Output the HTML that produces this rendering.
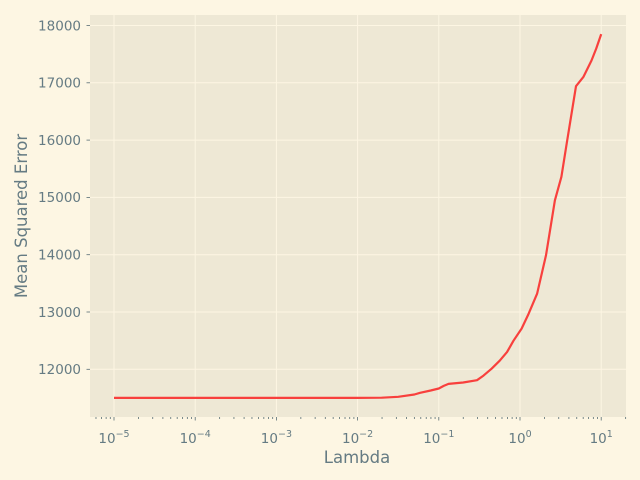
<!DOCTYPE html>
<html><head><meta charset="utf-8"><style>
body{margin:0;background:#fdf6e3}
svg{display:block;font-family:"DejaVu Sans","Liberation Sans",sans-serif}
</style></head><body>
<svg id="c" width="640" height="480"></svg>
<script>
const yTicks=[12000,13000,14000,15000,16000,17000,18000];
const xTickExps=[-5,-4,-3,-2,-1,0,1];
const logLambda=[-5,-4,-3,-2,-1.7,-1.5,-1.3,-1.23,-1.1,-1,-0.94,-0.88,-0.7,-0.53,-0.45,-0.35,-0.25,-0.16,-0.08,0.02,0.1,0.21,0.32,0.43,0.51,0.575,0.69,0.78,0.88,0.94,1];
const mse=[11500,11500,11500,11500,11505,11520,11560,11590,11630,11665,11710,11745,11770,11810,11890,12010,12150,12300,12500,12710,12950,13320,13990,14950,15360,15940,16940,17100,17390,17600,17850];
const L=90,R=626,T=15,B=417;
const X=v=>520+v*81.2;
const Y=v=>369.3-(v-12000)*0.0573;
const NS='http://www.w3.org/2000/svg';
const svg=document.getElementById('c');
function mk(t,a,p){const e=document.createElementNS(NS,t);for(const k in a)e.setAttribute(k,a[k]);(p||svg).appendChild(e);return e;}
const bg=mk('rect',{x:L,y:T,width:R-L,height:B-T,fill:'#eee8d5'});


const grid=mk('g',{stroke:'#fdf6e3','stroke-width':1});


yTicks.forEach(v=>mk('line',{x1:L,x2:R,y1:Y(v),y2:Y(v)},grid));
xTickExps.forEach(v=>mk('line',{x1:X(v),x2:X(v),y1:T,y2:B},grid));
const ax=mk('g',{stroke:'#586e75','stroke-width':0.8});


for(let e=-6;e<=1;e++){for(let m=1;m<10;m++){const lv=e+Math.log10(m);const x=X(lv);if(x<L||x>R)continue;mk('line',{x1:x,x2:x,y1:B,y2:B+(m==1?3.5:2)},ax);}}
xTickExps.forEach(v=>{
  const t=mk('text',{x:X(v),y:443,'text-anchor':'middle',fill:'#657b83','font-size':13.5});
  
  
  t.innerHTML='10<tspan dy="-6" font-size="9.5">'+(v<0?'\u2212':'')+Math.abs(v)+'</tspan>';
});
yTicks.forEach(v=>{
  const t=mk('text',{x:81,y:Y(v)+4.8,'text-anchor':'end',fill:'#657b83','font-size':13.5});
  
  
  t.textContent=v;
  mk('line',{x1:L-3.5,x2:L,y1:Y(v),y2:Y(v),stroke:'#586e75','stroke-width':0.8});
});
const xl=mk('text',{x:357,y:463,'text-anchor':'middle',fill:'#657b83','font-size':16.5});


xl.textContent='Lambda';
const yl=mk('text',{x:0,y:0,transform:'translate(27,216) rotate(-90)','text-anchor':'middle',fill:'#657b83','font-size':16.5});


yl.textContent='Mean Squared Error';
const pts=logLambda.map((l,i)=>X(l).toFixed(1)+','+Y(mse[i]).toFixed(1)).join(' ');
const line=mk('polyline',{points:pts,fill:'none',stroke:'#f8403d','stroke-width':2.2,'stroke-linejoin':'round'});


</script>
</body></html>
